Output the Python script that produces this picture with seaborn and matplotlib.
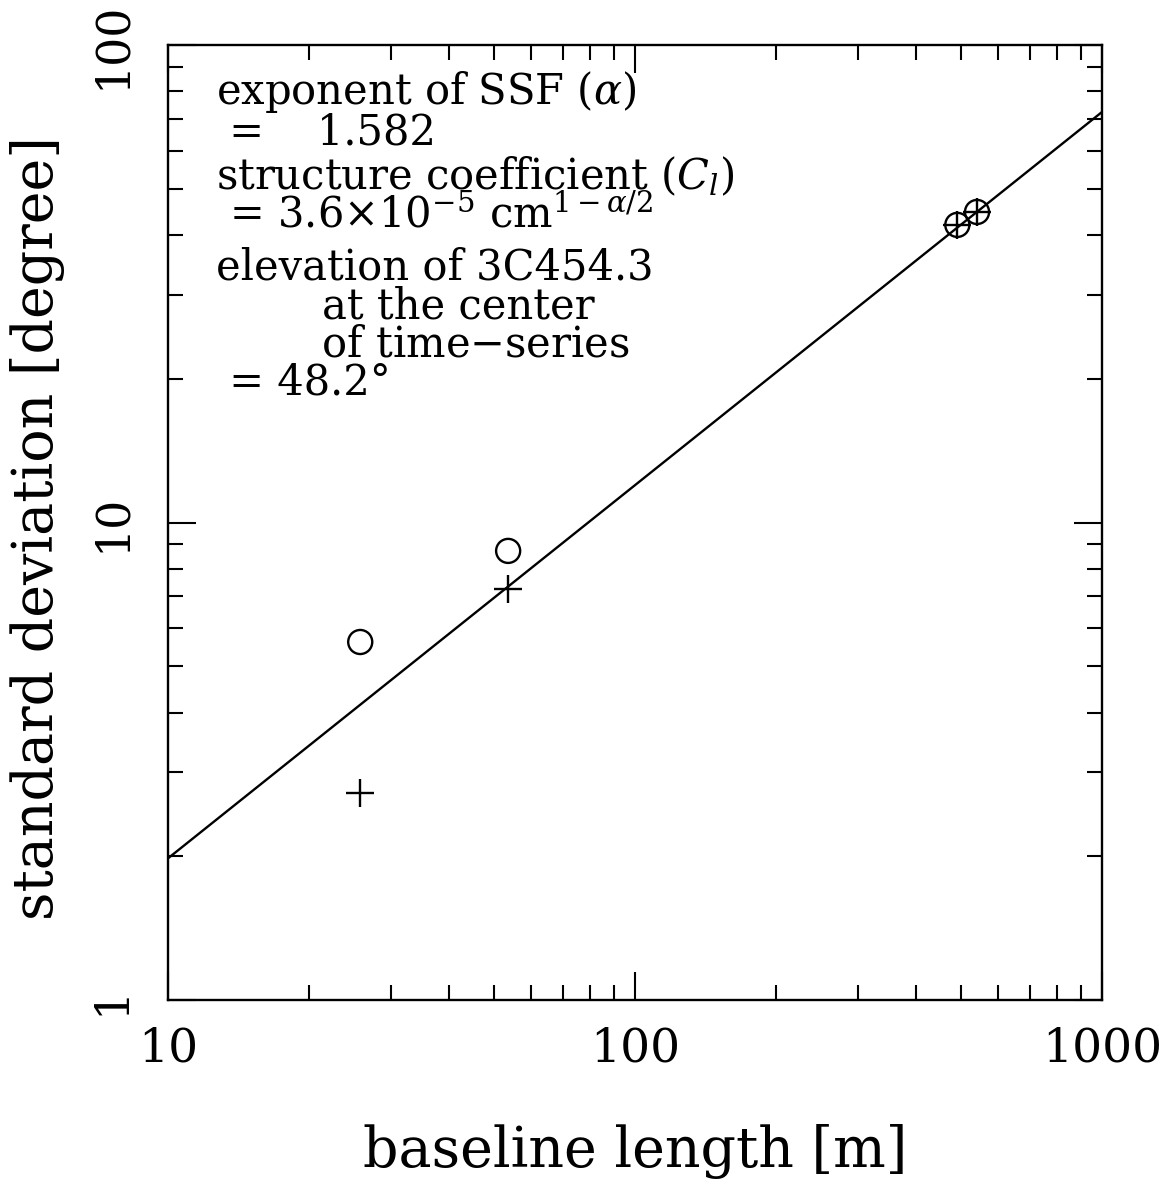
import numpy as np
import pandas as pd
import matplotlib
matplotlib.use("Agg")
import matplotlib.pyplot as plt
import matplotlib.ticker as mticker
import seaborn as sns

# ---- data ----
circle_x = [25.8, 53.5, 490.0, 540.0]
circle_y = [5.62, 8.72, 42.0, 44.7]
plus_x = [25.8, 53.5, 490.0, 540.0]
plus_y = [2.71, 7.26, 42.0, 44.7]
fit_x = [10.0, 1000.0]
fit_y = [1.98, 72.4]
x_ticks = [10, 100, 1000]
x_tick_labels = ["10", "100", "1000"]
y_ticks = [1, 10, 100]
y_tick_labels = ["1", "10", "100"]
annot_blocks = [
    "exponent of SSF ($\\alpha$)\n =    1.582",
    "structure coefficient ($C_l$)\n = 3.6$\\times$10$^{-5}$ cm$^{1-\\alpha/2}$",
    "elevation of 3C454.3\n        at the center\n        of time$-$series\n = 48.2°",
]

sns.set_style("ticks")
plt.rcParams["font.family"] = ["DejaVu Serif"]
plt.rcParams["mathtext.fontset"] = "dejavuserif"
plt.rcParams["axes.unicode_minus"] = False
for k in ["text.color", "axes.labelcolor", "xtick.color", "ytick.color",
          "axes.edgecolor"]:
    plt.rcParams[k] = "black"

fig = plt.figure(figsize=(11.72, 11.84), dpi=100)
ax = fig.add_axes([168 / 1172, 1 - 1000 / 1184, 934 / 1172, 955 / 1184])

df_fit = pd.DataFrame({"x": fit_x, "y": fit_y})
df_c = pd.DataFrame({"x": circle_x, "y": circle_y})
df_p = pd.DataFrame({"x": plus_x, "y": plus_y})

sns.lineplot(data=df_fit, x="x", y="y", ax=ax, color="black", lw=1.7)
sns.scatterplot(data=df_c, x="x", y="y", ax=ax, marker="o", s=300,
                facecolors="none", edgecolor="black", linewidth=1.7)
sns.scatterplot(data=df_p, x="x", y="y", ax=ax, marker="+", s=420,
                color="black", linewidth=1.7)

ax.set_xscale("log")
ax.set_yscale("log")
ax.set_xlim(10, 1000)
ax.set_ylim(1, 100)

ax.xaxis.set_major_locator(mticker.FixedLocator(x_ticks))
ax.xaxis.set_major_formatter(mticker.FixedFormatter(x_tick_labels))
ax.yaxis.set_major_locator(mticker.FixedLocator(y_ticks))
ax.yaxis.set_major_formatter(mticker.FixedFormatter(y_tick_labels))
ax.xaxis.set_minor_locator(mticker.LogLocator(base=10, subs=np.arange(2, 10)))
ax.yaxis.set_minor_locator(mticker.LogLocator(base=10, subs=np.arange(2, 10)))
ax.xaxis.set_minor_formatter(mticker.NullFormatter())
ax.yaxis.set_minor_formatter(mticker.NullFormatter())

ax.tick_params(which="both", direction="in", top=True, right=True,
               width=1.5, color="black", labelcolor="black")
ax.tick_params(which="major", length=20)
ax.tick_params(which="minor", length=11)
ax.tick_params(axis="x", which="major", labelsize=34, pad=19)
ax.tick_params(axis="y", which="major", labelsize=33, pad=24)
for lab in ax.get_yticklabels():
    lab.set_rotation(90)
    lab.set_va("center")

for sp in ax.spines.values():
    sp.set_linewidth(1.7)
    sp.set_color("black")

ax.set_xlabel("baseline length [m]", fontsize=40)
ax.set_ylabel("standard deviation [degree]", fontsize=40)
ax.xaxis.set_label_coords(0.5, -0.175)
ax.xaxis.label.set_va("baseline")
ax.yaxis.set_label_coords(-0.1397, 0.494)
ax.yaxis.label.set_va("center")

block_tops_px = [69, 155, 247]
for txt, ypx in zip(annot_blocks, block_tops_px):
    fig.text(216 / 1172, 1 - ypx / 1184, txt, fontsize=30,
             ha="left", va="top", linespacing=0.88)

fig.savefig("out.png", dpi=100)
